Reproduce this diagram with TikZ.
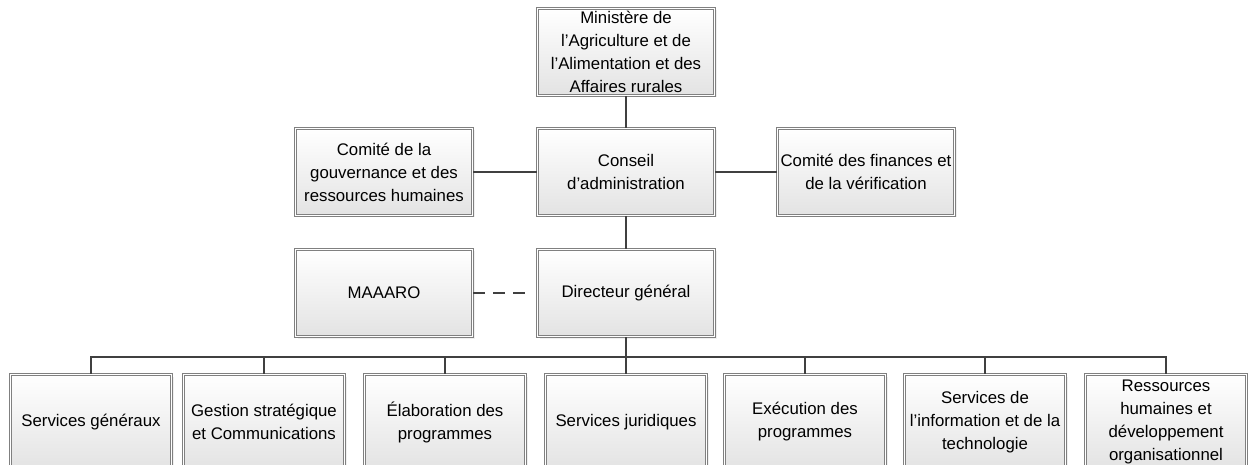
\documentclass[tikz,border=0pt]{standalone}
\usepackage{fontspec}
\setmainfont{Liberation Sans}
\usetikzlibrary{positioning,shadows}

\begin{document}
\begin{tikzpicture}[x=1pt,y=1pt,
  orgbox/.style={draw=black!50, double=white, double distance=1.4pt, line width=1pt,
    top color=white, bottom color=black!11, align=center, inner sep=0pt,
    font=\fontsize{16.8}{23}\selectfont, minimum width=177pt, minimum height=87pt,
    drop shadow={opacity=0.12, shadow xshift=2pt, shadow yshift=-2pt}},
  unitbox/.style={orgbox, minimum width=161pt, minimum height=95pt},
  link/.style={draw=black!75, line width=1.3pt}]
\useasboundingbox (0,0) rectangle (1248,-465);
\clip (0,0) rectangle (1248,-465);
% top levels
\node[orgbox] (mini) at (626,-52) {Ministère de\\l’Agriculture et de\\l’Alimentation et des\\Affaires rurales};
\node[orgbox] (conseil) at (626,-172) {Conseil\\d’administration};
\node[orgbox] (gouv) at (384,-172) {Comité de la\\gouvernance et des\\ressources humaines};
\node[orgbox] (fin) at (866,-172) {Comité des finances et\\de la vérification};
\node[orgbox] (dg) at (626,-293) {Directeur général};
\node[orgbox] (maaaro) at (384,-293) {MAAARO};
% units
\node[unitbox] (u1) at (91,-422) {Services généraux};
\node[unitbox] (u2) at (264,-422) {Gestion stratégique\\et Communications};
\node[unitbox] (u3) at (445,-422) {Élaboration des\\programmes};
\node[unitbox] (u4) at (626,-422) {Services juridiques};
\node[unitbox] (u5) at (805,-422) {Exécution des\\programmes};
\node[unitbox] (u6) at (985,-422) {Services de\\l’information et de la\\technologie};
\node[unitbox] (u7) at (1166,-422) {Ressources\\humaines et\\développement\\organisationnel};
\coordinate (bus) at (626,-357);

\draw[link] (mini) -- (conseil);
\draw[link] (gouv) -- (conseil);
\draw[link] (fin) -- (conseil);
\draw[link] (conseil) -- (dg);
\draw[link, dash pattern=on 12pt off 8pt, shorten >=8pt] (maaaro.east) -- (dg.west);
\draw[link] (dg) -- (bus);
\foreach \u in {u1,u2,u3,u4,u5,u6,u7}
  \draw[link] (bus) -| (\u.north);
\end{tikzpicture}
\end{document}
